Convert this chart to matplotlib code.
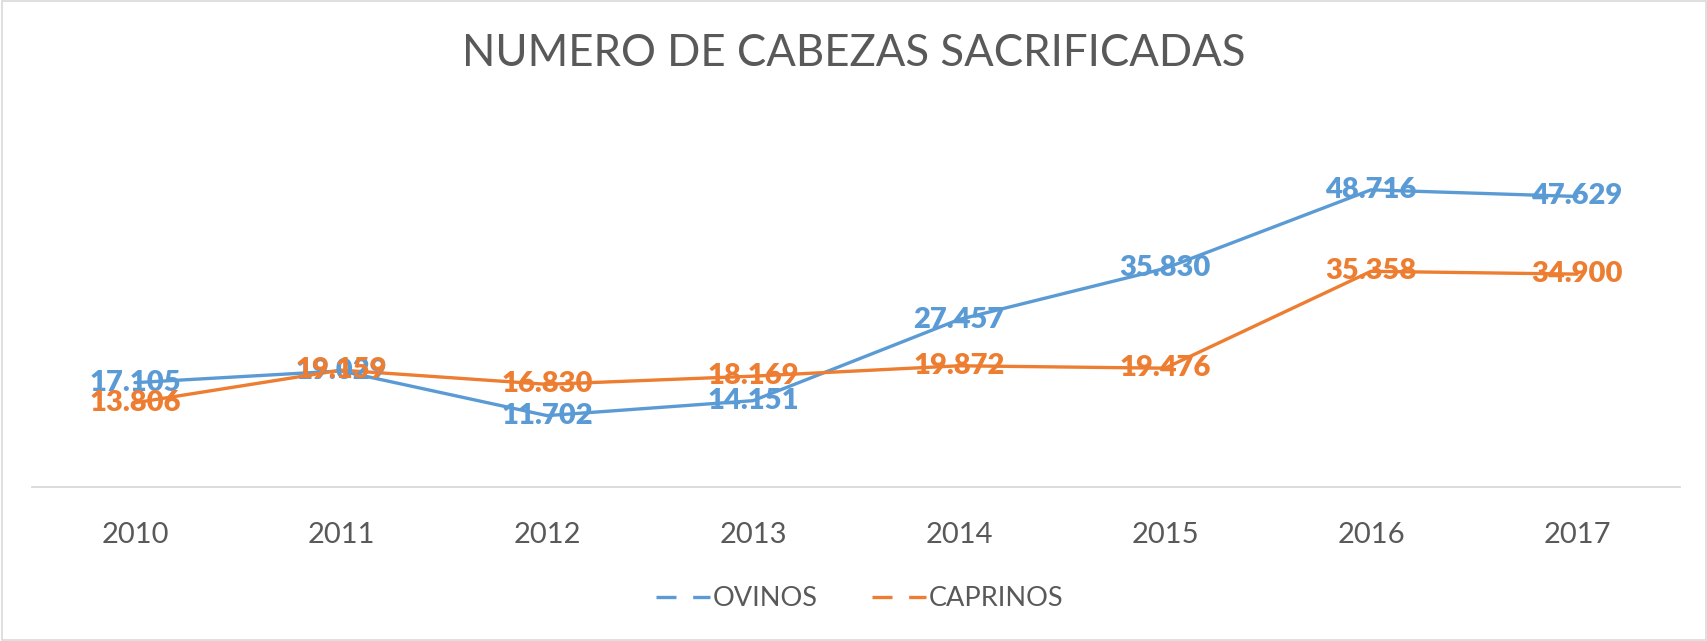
import matplotlib
matplotlib.use("Agg")
import matplotlib.pyplot as plt
from matplotlib.lines import Line2D
from matplotlib.patches import Rectangle

years = ["2010", "2011", "2012", "2013", "2014", "2015", "2016", "2017"]
ovinos = [17105, 19029, 11702, 14151, 27457, 35830, 48716, 47629]
caprinos = [13806, 19159, 16830, 18169, 19872, 19476, 35358, 34900]
series_names = ["OVINOS", "CAPRINOS"]
title = "NUMERO DE CABEZAS SACRIFICADAS"

BLUE = "#5B9BD5"
ORANGE = "#ED7D31"
GREY = "#595959"
FONT = ["Lato", "DejaVu Sans"]

plt.rcParams["font.family"] = FONT

fig = plt.figure(figsize=(17.08, 6.41), dpi=100)
ax = fig.add_axes([32/1708, 1-487/641, (1680-32)/1708, (487-121)/641])

x = list(range(len(years)))
for vals, col in [(ovinos, BLUE), (caprinos, ORANGE)]:
    ax.plot(x, vals, color=col, lw=2.4, solid_capstyle="round", zorder=2)
for vals, col in [(ovinos, BLUE), (caprinos, ORANGE)]:
    for xi, v in zip(x, vals):
        ax.text(xi, v, f"{v:,}".replace(",", "."), color=col, fontsize=21,
                fontweight="heavy", ha="center", va="center", zorder=3)

ax.set_xlim(-0.5, len(years) - 0.5)
ax.set_ylim(0, 60000)
ax.set_xticks(x)
ax.set_xticklabels(years, fontsize=21, color=GREY)
ax.set_yticks([])
ax.tick_params(axis="x", length=0, pad=25)
for s in ["top", "right", "left"]:
    ax.spines[s].set_visible(False)
ax.spines["bottom"].set_color("#D9D9D9")
ax.spines["bottom"].set_linewidth(1.3)

fig.text(0.5, 1-54/641, title, ha="center", va="center", fontsize=31.5, color=GREY)

handles = [Line2D([0], [0], color=BLUE, lw=2.4, dashes=(6, 5)),
           Line2D([0], [0], color=ORANGE, lw=2.4, dashes=(6, 5))]
fig.legend(handles, series_names, loc="center", bbox_to_anchor=(860/1708, 1-599/641),
           ncol=2, frameon=False, fontsize=19.5, labelcolor=GREY,
           handlelength=2.0, handletextpad=0.1, columnspacing=2.0)

fig.patches.append(Rectangle((0.001, 0.001), 0.998, 0.998, transform=fig.transFigure,
                             fill=False, edgecolor="#D9D9D9", lw=1.2))

fig.savefig("out.png", dpi=100, facecolor="white")
